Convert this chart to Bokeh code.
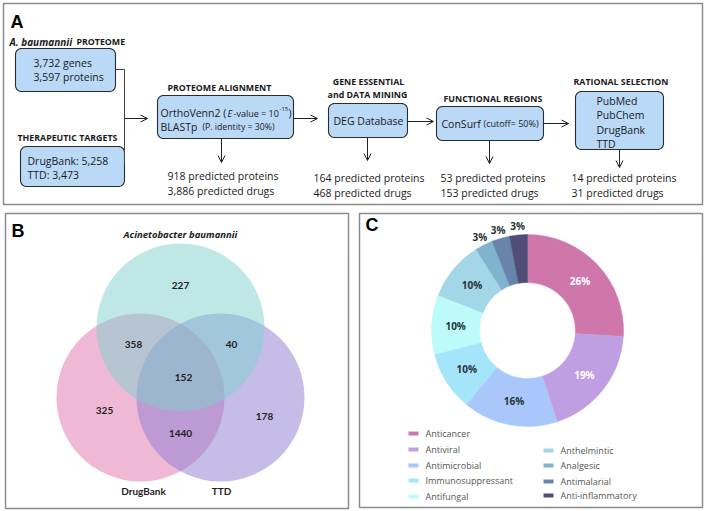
import numpy as np
from bokeh.plotting import figure
from bokeh.models import Range1d, Arrow, OpenHead
from bokeh.core.properties import value
from bokeh.embed import file_html
from bokeh.resources import INLINE

# ---------------- data ----------------
proteome_genes = "3,732"
proteome_proteins = "3,597"
drugbank_targets = "5,258"
ttd_targets = "3,473"
stage_headers = [["PROTEOME ALIGNMENT"], ["GENE ESSENTIAL", "and DATA MINING"],
                 ["FUNCTIONAL REGIONS"], ["RATIONAL SELECTION"]]
predicted_proteins = ["918", "164", "53", "14"]
predicted_drugs = ["3,886", "468", "153", "31"]
selection_sources = ["PubMed", "PubChem", "DrugBank", "TTD"]

venn_sets = ["Acinetobacter baumannii", "DrugBank", "TTD"]
venn_regions = ["AB only", "AB&DB", "AB&TTD", "AB&DB&TTD", "DB only", "TTD only", "DB&TTD"]
venn_counts = [227, 358, 40, 152, 325, 178, 1440]

drug_classes = ["Anticancer", "Antiviral", "Antimicrobial", "Immunosuppressant", "Antifungal",
                "Anthelmintic", "Analgesic", "Antimalarial", "Anti-inflammatory"]
drug_pct = [26, 19, 16, 10, 10, 10, 3, 3, 3]
drug_colors = ["#cf76aa", "#bf9fe2", "#a9c7fb", "#a5e5fa", "#bdfbfb",
               "#a3d7e7", "#80b3cd", "#6984ab", "#504e78"]

# ---------------- figure ----------------
W, H = 705, 511
p = figure(width=W, height=H, x_range=Range1d(0, W), y_range=Range1d(0, H),
           output_backend="svg", toolbar_location=None, min_border=0)
p.axis.visible = False
p.grid.visible = False
p.outline_line_color = None
p.background_fill_color = "white"
p.border_fill_color = "white"


def Y(sy):
    return H - sy


def T(x, sy, s, size="10.5px", font="Open Sans", style="normal", color="#1a1a1a",
      align="left", baseline="middle"):
    p.text(x=[x], y=[Y(sy)], text=[s], text_font=value(font), text_font_size=size,
           text_font_style=style, text_color=color, text_align=align, text_baseline=baseline)


def rrect(x0, y0, x1, y1, r=6, fill="#b9d9f7"):
    top, bot = Y(y0), Y(y1)
    xs, ys = [], []
    for cx, cy, a0 in [(x1 - r, top - r, 0), (x0 + r, top - r, 90),
                       (x0 + r, bot + r, 180), (x1 - r, bot + r, 270)]:
        t = np.radians(np.linspace(a0, a0 + 90, 8))
        xs += list(cx + r * np.cos(t))
        ys += list(cy + r * np.sin(t))
    p.patch(xs, ys, fill_color=fill, line_color="#2b2b2b", line_width=1.1)


def panel(x0, y0, x1, y1):
    p.quad(left=[x0], right=[x1], top=[Y(y0)], bottom=[Y(y1)], fill_alpha=0,
           line_color="#8c8c8c", line_width=1.5)


def arrow(x0, sy0, x1, sy1):
    p.add_layout(Arrow(end=OpenHead(size=7, line_width=1, line_color="#222222"),
                       x_start=x0, y_start=Y(sy0), x_end=x1, y_end=Y(sy1),
                       line_width=1, line_color="#222222"))


def seg(xs, sys):
    p.line(xs, [Y(s) for s in sys], line_color="#444444", line_width=1)


HB = "8.8px"
# ---------------- panel A ----------------
panel(3, 3, 702, 204)
T(10, 21, "A", size="18px", font="Liberation Sans", style="bold", color="black")
T(9, 41, "A. baumannii", size="10px", style="bold italic")
T(76, 41, "PROTEOME", size=HB, style="bold")
rrect(15, 48, 115, 91)
T(33, 62, proteome_genes + " genes")
T(33, 76, proteome_proteins + " proteins")
T(17, 137, "THERAPEUTIC TARGETS", size=HB, style="bold")
rrect(20, 146, 124, 186)
T(27, 160, "DrugBank: " + drugbank_targets)
T(27, 174, "TTD: " + ttd_targets)
seg([115, 124, 124], [69, 69, 164])
arrow(124, 118, 147, 118)

# stage 1
T(167, 87, stage_headers[0][0], size=HB, style="bold")
rrect(157, 95, 293, 138)
T(160, 112, "OrthoVenn2 (")
T(227, 113, "E", size="9px", style="italic")
T(233, 113, "-value = 10", size="9px")
T(279, 108, "-15", size="6px")
T(288, 112, ")")
T(160, 126, "BLASTp")
T(202, 126, "(P. identity = 30%)", size="8.7px")
arrow(293, 118, 317, 118)
arrow(221, 138, 221, 162)
T(167, 175, predicted_proteins[0] + " predicted proteins")
T(167, 190, predicted_drugs[0] + " predicted drugs")

# stage 2
T(368, 81, stage_headers[1][0], size=HB, style="bold", align="center")
T(367, 94, stage_headers[1][1], size=HB, style="bold", align="center")
rrect(328, 103, 407, 137)
T(368, 120, "DEG Database", align="center")
arrow(407, 121, 433, 121)
arrow(367, 137, 367, 160)
T(313, 177, predicted_proteins[1] + " predicted proteins")
T(313, 192, predicted_drugs[1] + " predicted drugs")

# stage 3
T(443, 98, stage_headers[2][0], size=HB, style="bold")
rrect(436, 106, 543, 140)
T(441, 123, "ConSurf")
T(483, 123, "(cutoff= 50%)", size="9px")
arrow(543, 123, 568, 123)
arrow(489, 140, 489, 163)
T(440, 177, predicted_proteins[2] + " predicted proteins")
T(440, 192, predicted_drugs[2] + " predicted drugs")

# stage 4
T(573, 81, stage_headers[3][0], size=HB, style="bold")
rrect(575, 91, 663, 149)
for i, s in enumerate(selection_sources):
    T(596, 100 + 14.5 * i, s)
arrow(619, 149, 619, 167)
T(571, 177, predicted_proteins[3] + " predicted proteins")
T(571, 192, predicted_drugs[3] + " predicted drugs")

# ---------------- panel B ----------------
panel(5, 213, 348, 508)
T(11, 230, "B", size="18px", font="Liberation Sans", style="bold", color="black")
T(180, 234, venn_sets[0], size="9.5px", style="bold italic", align="center")
R = 84
circles = [(140, 397, "#df71ab"), (220, 397, "#8b7bd1"), (180, 327, "#7fcfcd")]
for cx, cy, col in circles:
    p.circle(x=[cx], y=[Y(cy)], radius=R, fill_color=col, fill_alpha=0.5, line_color=None)
venn_label_pos = [(180, 285), (133, 344), (231, 344), (183, 377), (104, 410), (264, 416), (180, 433)]
for (lx, ly), c in zip(venn_label_pos, venn_counts):
    T(lx, ly, str(c), size="10px", font="Lato", style="bold", color="#1e1e1e", align="center")
T(143, 490, venn_sets[1], size="10px", font="Lato", style="bold", color="#1e1e1e", align="center")
T(221, 490, venn_sets[2], size="10px", font="Lato", style="bold", color="#1e1e1e", align="center")

# ---------------- panel C ----------------
panel(359, 213, 702, 507)
T(365, 224, "C", size="18px", font="Liberation Sans", style="bold", color="black")
cx, cy = 527, 330
frac = np.array(drug_pct, dtype=float) / sum(drug_pct)
cum = np.concatenate([[0], np.cumsum(frac)])
a_start = np.pi / 2 - 2 * np.pi * cum[:-1]
a_end = np.pi / 2 - 2 * np.pi * cum[1:]
p.annular_wedge(x=cx, y=Y(cy), inner_radius=48, outer_radius=96,
                start_angle=list(a_end), end_angle=list(a_start),
                fill_color=drug_colors, line_color=drug_colors, line_width=0.5)
for i, pct in enumerate(drug_pct):
    mid = (a_start[i] + a_end[i]) / 2
    rr = 72 if pct > 5 else 105
    col = "white" if i < 2 else "#263238"
    p.text(x=[cx + rr * np.cos(mid)], y=[Y(cy) + rr * np.sin(mid)], text=[f"{pct}%"],
           text_font=value("Open Sans"), text_font_size="10px", text_font_style="bold",
           text_color=col, text_align="center", text_baseline="middle")

legend_pos = [(408, 433), (408, 449), (408, 465), (408, 480), (408, 496),
              (543, 450), (543, 465), (543, 481), (543, 495)]
for (lx, ly), name, col in zip(legend_pos, drug_classes, drug_colors):
    p.quad(left=[lx], right=[lx + 10], top=[Y(ly - 2)], bottom=[Y(ly + 2)],
           fill_color=col, line_color=None)
    T(lx + 17, ly, name, size="9px", color="#555555")

open("out.html", "w").write(file_html(p, INLINE))
